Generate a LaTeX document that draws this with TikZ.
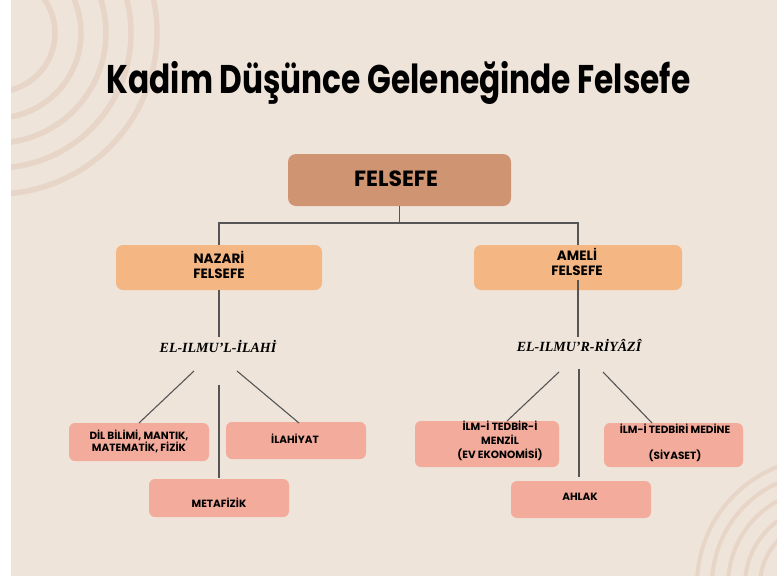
\documentclass[tikz,border=0pt]{standalone}
\usepackage{fontspec}
\setmainfont{Poppins}
\newfontfamily\serifit{Liberation Serif}
\usetikzlibrary{calc}
\definecolor{bg}{HTML}{EEE4DA}
\definecolor{ring}{HTML}{E7D5C7}
\definecolor{topc}{HTML}{CF9471}
\definecolor{midc}{HTML}{F4B784}
\definecolor{lowc}{HTML}{F3AB9B}
\definecolor{lnc}{HTML}{555555}
\begin{document}
\begin{tikzpicture}[x=1pt,y=-1pt,
  boxshape/.style={inner sep=0pt, outer sep=0pt, rounded corners=6pt},
  topbox/.style={boxshape, fill=topc, rounded corners=8pt},
  midbox/.style={boxshape, fill=midc, rounded corners=7pt},
  lowbox/.style={boxshape, fill=lowc},
  txt/.style={inner sep=0pt, outer sep=0pt, anchor=base, align=center, text=black},
  lowtxt/.style={txt, font=\fontsize{10.5}{12.5}\selectfont\bfseries},
  midtxt/.style={txt, font=\fontsize{13.5}{15.5}\selectfont\bfseries},
  lbl/.style={txt, font=\fontsize{14}{16}\selectfont\serifit\bfseries\itshape},
  conn/.style={draw=lnc, line width=1.1pt},
  ringline/.style={draw=ring, line width=5.5pt}]
\useasboundingbox (0,0) rectangle (777,576);
\fill[white] (0,0) rectangle (777,576);
\fill[bg] (11,0) rectangle (777,576);
\begin{scope}
\clip (11,0) rectangle (777,576);
\foreach \r in {59,85,110,135,161} \draw[ringline] (-4,33) circle[radius=\r];
\foreach \r in {64,79,96,112,127} \draw[ringline, line width=4pt] (824,585) circle[radius=\r];
\end{scope}

% title
\node[txt, font=\fontsize{40}{48}\selectfont\bfseries] (title) at (398.5,93.6) {\scalebox{0.78}[1]{Kadim Düşünce Geleneğinde Felsefe}};

% boxes
\node[topbox, minimum width=223pt, minimum height=52pt] (felsefe) at (399.5,180) {};
\node[midbox, minimum width=206pt, minimum height=45pt] (nazari) at (219,267.5) {};
\node[midbox, minimum width=208pt, minimum height=45pt] (ameli) at (578,267.5) {};
\node[lowbox, minimum width=140pt, minimum height=38pt] (dil) at (139,442) {};
\node[lowbox, minimum width=140pt, minimum height=37pt] (ilahiyat) at (296,440.5) {};
\node[lowbox, minimum width=140pt, minimum height=38pt] (metafizik) at (219,498) {};
\node[lowbox, minimum width=144pt, minimum height=46pt] (tedbir) at (487,444) {};
\node[lowbox, minimum width=139pt, minimum height=44pt] (medine) at (673.5,445) {};
\node[lowbox, minimum width=140pt, minimum height=37pt] (ahlak) at (581,499.5) {};

% texts
\node[txt, font=\fontsize{22}{24}\selectfont\bfseries] (felsefeT) at (396,186.7) {FELSEFE};
\node[midtxt, font=\fontsize{13.5}{15}\selectfont\bfseries] (nazariT) at (219,278) {NAZARİ\\FELSEFE};
\node[midtxt, font=\fontsize{13.5}{15.7}\selectfont\bfseries] (ameliT) at (577,275.7) {AMELİ\\FELSEFE};
\node[lowtxt] (dilT) at (139,451.5) {DİL BİLİMİ, MANTIK,\\MATEMATİK, FİZİK};
\node[lowtxt] (ilahiyatT) at (295,443) {İLAHİYAT};
\node[lowtxt] (metafizikT) at (219,507) {METAFİZİK};
\node[lowtxt] (ahlakT) at (580,500) {AHLAK};
\node[lowtxt, font=\fontsize{10.5}{13.7}\selectfont\bfseries] (tedbirT) at (500,458) {İLM-İ TEDBİR-İ\\MENZİL\\(EV EKONOMİSİ)};
\node[lowtxt, font=\fontsize{10.5}{13}\selectfont\bfseries] (medineT) at (675,459) {İLM-İ TEDBİRİ MEDİNE\\[13pt](SİYASET)};

\node[lbl] (ilahi) at (218,352.7) {EL-ILMU’L-İLAHİ};
\node[lbl] (riyazi) at (579,351.7) {EL-ILMU’R-RİYÂZÎ};

% connectors
\coordinate (j) at ($(felsefe.south)+(0,17)$);
\draw[conn] (felsefe.south) -- (j);
\draw[conn] (nazari.north) -- (nazari.north |- j) -- (ameli.north |- j) -- (ameli.north);
\coordinate (nazEnd) at (219,337);
\coordinate (ameStart) at (578,280);
\coordinate (ameEnd) at (578,337);
\draw[conn] (nazari.south) -- (nazEnd);
\draw[conn] (ameStart) -- (ameEnd);

\coordinate (iL) at (194,371);
\coordinate (iM) at (219,385);
\coordinate (iR) at (237,371);
\draw[conn] (iL) -- (dil.north);
\draw[conn] (iM) -- ($(metafizik.north)+(0,-1)$);
\draw[conn] (iR) -- ($(ilahiyat.north)+(3,1)$);

\coordinate (rL) at (559,372);
\coordinate (rM) at (579,369);
\coordinate (rR) at (603,372);
\draw[conn] (rL) -- ($(tedbir.north)+(20,0)$);
\draw[conn] (rM) -- ($(ahlak.north)+(-2,-4)$);
\draw[conn] (rR) -- ($(medine.north)+(-21.5,0)$);
\end{tikzpicture}
\end{document}
